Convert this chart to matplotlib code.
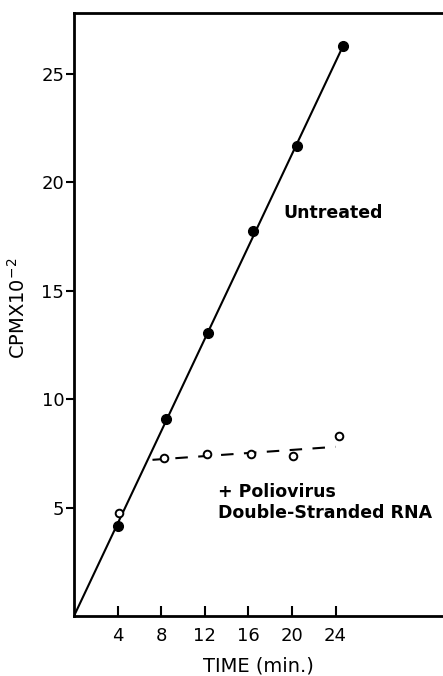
"""
Incorporation over time: untreated vs + poliovirus double-stranded RNA
"""

import matplotlib
matplotlib.use("Agg")
import matplotlib.pyplot as plt  # type: ignore

# untreated (filled circles)
untreated_time = [4.0, 8.4, 12.3, 16.4, 20.5, 24.7]
untreated_cpm = [4.15, 9.06, 13.04, 17.74, 21.67, 26.3]
untreated_fit_time = [0.0, 24.7]
untreated_fit_cpm = [0.0, 26.3]

# + poliovirus dsRNA (open circles)
dsrna_time = [4.1, 8.3, 12.2, 16.2, 20.1, 24.3]
dsrna_cpm = [4.76, 7.29, 7.45, 7.45, 7.37, 8.29]
dsrna_fit_time = [7.2, 24.0]
dsrna_fit_cpm = [7.2, 7.8]

x_ticks = [4, 8, 12, 16, 20, 24]
x_tick_labels = ["4", "8", "12", "16", "20", "24"]
y_ticks = [5, 10, 15, 20, 25]
y_tick_labels = ["5", "10", "15", "20", "25"]

plt.rcParams["font.family"] = ["DejaVu Sans"]

fig = plt.figure(figsize=(4.43, 6.76), dpi=100)
ax = fig.add_axes([74 / 443, 60 / 676, 369 / 443, 603 / 676])

ax.plot(untreated_fit_time, untreated_fit_cpm, color="black", lw=1.5,
        solid_capstyle="butt")
ax.plot(dsrna_fit_time, dsrna_fit_cpm, color="black", lw=1.5,
        dashes=(6, 5))
ax.plot(untreated_time, untreated_cpm, "o", color="black", ms=7, zorder=3)
ax.plot(dsrna_time, dsrna_cpm, "o", mfc="white", mec="black", mew=1.4,
        ms=5.5, zorder=4)

ax.set_xlim(0, 33.85)
ax.set_ylim(0, 27.8)

ax.set_xticks(x_ticks)
ax.set_xticklabels(x_tick_labels)
ax.set_yticks(y_ticks)
ax.set_yticklabels(y_tick_labels)
ax.tick_params(axis="x", direction="in", length=7, width=1.5, pad=8,
               labelsize=13)
ax.tick_params(axis="y", direction="out", length=6, width=1.5, pad=1,
               labelsize=13)

for side in ["left", "bottom", "top"]:
    ax.spines[side].set_linewidth(2)
ax.spines["right"].set_visible(False)

ax.set_xlabel("TIME (min.)", fontsize=14, va="center")
ax.xaxis.set_label_coords(0.5, -0.083)
ax.set_ylabel("CPMX10$^{-2}$", fontsize=14, va="center")
ax.yaxis.set_label_coords(-0.152, 0.51)

ax.text(19.2, 18.6, "Untreated", fontsize=12.5, fontweight="bold",
        va="center", ha="left")
ax.text(13.2, 5.7, "+ Poliovirus", fontsize=12.5, fontweight="bold",
        va="center", ha="left")
ax.text(13.2, 4.75, "Double-Stranded RNA", fontsize=12.5, fontweight="bold",
        va="center", ha="left")

fig.savefig("out.png", dpi=100)
